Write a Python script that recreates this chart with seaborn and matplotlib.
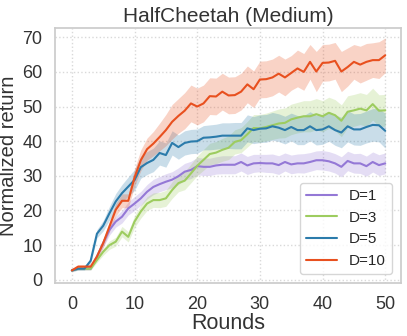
import matplotlib
matplotlib.use('Agg')
import matplotlib.pyplot as plt
import seaborn as sns
import pandas as pd

# rounds 0..50
rounds = list(range(51))
labels = ['D=1', 'D=3', 'D=5', 'D=10']
colors = ['#9478d6', '#9dcc5f', '#2b7bab', '#e8501f']

d1_mean = [2.7, 3.2, 3.2, 3.2, 6.7, 10.6, 14.4, 16.8, 18.2, 20.6,
           22.0, 23.5, 25.4, 26.8, 27.6, 28.3, 28.9, 29.9, 31.2, 31.7,
           32.8, 32.6, 32.6, 33.0, 33.2, 33.2, 33.2, 34.0, 33.0, 33.6,
           33.7, 33.6, 33.6, 33.1, 34.0, 33.3, 33.6, 33.6, 34.0, 34.5,
           34.5, 34.2, 33.6, 32.6, 34.3, 33.6, 33.6, 32.8, 34.0, 33.1, 33.6]
d1_std = [0.3, 0.4, 0.4, 0.4, 0.8, 1.2, 1.5, 1.6, 1.8, 1.9,
          2.0, 2.0, 2.1, 2.2, 2.2, 2.3, 2.3, 2.4, 2.4, 2.5,
          2.5, 2.5, 2.5, 2.5, 2.6, 2.6, 2.6, 2.6, 2.6, 2.6,
          2.5, 2.6, 2.7, 2.7, 2.6, 2.7, 2.7, 2.8, 2.7, 2.7,
          2.8, 2.8, 2.8, 2.9, 2.8, 2.8, 2.9, 2.9, 2.9, 3.0, 3.0]

d3_mean = [2.7, 3.2, 3.2, 3.2, 5.7, 8.1, 10.0, 11.0, 13.9, 12.4,
           16.8, 19.7, 22.0, 23.0, 23.0, 23.5, 25.9, 27.9, 28.6, 30.7,
           32.9, 34.6, 36.3, 36.7, 37.5, 38.1, 39.8, 40.3, 42.0, 43.8,
           43.7, 44.1, 44.6, 45.1, 45.3, 46.3, 46.8, 47.2, 47.2, 47.8,
           47.2, 48.2, 47.5, 45.9, 48.5, 48.9, 49.4, 48.9, 50.7, 48.8, 48.9]
d3_std = [0.3, 0.4, 0.4, 0.4, 0.7, 1.0, 1.2, 1.3, 1.5, 1.5,
          1.7, 1.9, 2.0, 2.1, 2.2, 2.3, 2.4, 2.5, 2.6, 2.7,
          2.8, 3.0, 3.1, 3.2, 3.3, 3.4, 3.5, 3.6, 3.7, 3.9,
          4.0, 4.0, 4.1, 4.2, 4.3, 4.4, 4.4, 4.5, 4.5, 4.5,
          4.5, 4.5, 4.5, 4.6, 4.6, 4.6, 4.6, 4.6, 4.6, 4.6, 4.6]

d5_mean = [2.7, 3.2, 3.2, 5.5, 13.3, 15.6, 19.2, 22.6, 25.0, 26.9,
           28.8, 32.5, 33.7, 34.6, 36.6, 36.0, 39.5, 38.3, 39.5, 39.9,
           40.0, 41.0, 41.1, 41.3, 41.6, 41.6, 41.6, 41.6, 43.7, 43.2,
           43.6, 43.7, 44.3, 43.9, 43.2, 44.1, 43.2, 43.2, 44.3, 43.2,
           43.4, 44.3, 43.2, 42.5, 44.3, 43.4, 43.4, 44.1, 44.7, 44.6, 43.0]
d5_std = [0.3, 0.4, 0.4, 0.8, 1.2, 1.5, 2.0, 2.3, 2.5, 2.8,
          3.0, 3.2, 3.3, 3.4, 3.5, 3.5, 3.5, 3.5, 3.5, 3.5,
          3.5, 3.5, 3.6, 3.6, 3.7, 3.7, 3.8, 3.8, 3.9, 3.9,
          4.0, 4.0, 4.0, 4.0, 4.0, 4.0, 4.2, 4.2, 4.2, 4.3,
          4.3, 4.3, 4.4, 4.4, 4.5, 4.5, 4.6, 4.6, 4.7, 4.8, 5.0]

d10_mean = [2.7, 3.8, 3.8, 3.8, 6.7, 10.6, 15.4, 20.2, 22.8, 22.8,
            29.5, 34.5, 37.7, 39.3, 41.2, 43.2, 45.6, 47.3, 48.8, 50.9,
            50.0, 50.9, 53.0, 52.9, 54.3, 53.2, 53.3, 54.3, 56.4, 55.0,
            57.8, 57.9, 58.4, 59.5, 58.4, 59.7, 61.0, 60.0, 62.9, 60.1,
            62.6, 62.7, 63.2, 60.1, 61.4, 62.9, 62.1, 62.9, 63.4, 63.4, 64.8]
d10_std = [0.3, 0.5, 0.5, 0.5, 0.8, 1.2, 1.5, 1.8, 2.0, 2.0,
           2.5, 3.0, 3.2, 3.5, 4.0, 4.5, 5.0, 5.0, 5.2, 5.3,
           5.3, 5.3, 5.3, 5.3, 5.3, 5.3, 5.3, 5.3, 5.3, 5.3,
           5.3, 5.3, 5.3, 5.3, 5.3, 5.0, 5.3, 5.3, 5.0, 5.8,
           5.3, 5.3, 5.3, 5.8, 5.5, 5.0, 5.3, 5.3, 5.0, 5.3, 5.0]

means = [d1_mean, d3_mean, d5_mean, d10_mean]
stds = [d1_std, d3_std, d5_std, d10_std]

df = pd.concat([pd.DataFrame({'Rounds': rounds, 'value': m, 'std': s, 'D': lab})
                for m, s, lab in zip(means, stds, labels)], ignore_index=True)

sns.set_theme(style='whitegrid')
plt.rcParams['font.family'] = ['Liberation Sans', 'DejaVu Sans']
plt.rcParams['grid.linestyle'] = ':'
plt.rcParams['grid.color'] = '#d9d9d9'

fig = plt.figure(figsize=(4.07, 3.36), dpi=100)
ax = fig.add_axes([0.135, 0.157, 0.85, 0.761])

sns.lineplot(data=df, x='Rounds', y='value', hue='D', hue_order=labels,
             palette=colors, linewidth=1.5, errorbar=None, ax=ax)

# shaded band = mean +/- std
for lab, col in zip(labels, colors):
    sub = df[df['D'] == lab]
    ax.fill_between(sub['Rounds'], sub['value'] - sub['std'], sub['value'] + sub['std'],
                    color=col, alpha=0.25, linewidth=0)

ax.set_xlim(-2.7, 52.5)
ax.set_ylim(-1.0, 72.8)
ax.set_xticks([0, 10, 20, 30, 40, 50])
ax.set_yticks([0, 10, 20, 30, 40, 50, 60, 70])
ax.tick_params(labelsize=13, pad=3, colors='#333333')
ax.set_title('HalfCheetah (Medium)', fontsize=15, pad=4, color='#333333')
ax.set_xlabel('Rounds', fontsize=15.5, labelpad=0, color='#333333')
ax.set_ylabel('Normalized return', fontsize=14.5, labelpad=3, color='#333333')
for sp in ax.spines.values():
    sp.set_color('#cccccc')

ax.legend(loc='lower right', fontsize=11, title=None, frameon=True,
          borderaxespad=0.6, handlelength=2.0)

plt.savefig('out.png', dpi=100)
